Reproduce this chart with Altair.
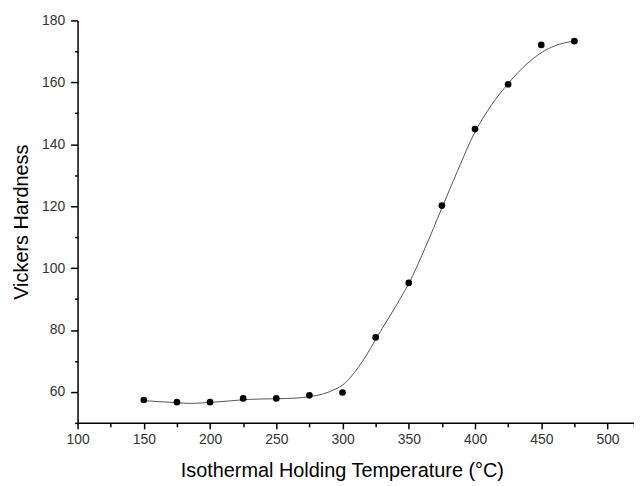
import altair as alt
import pandas as pd

# Measured points
temp = [150, 175, 200, 225, 250, 275, 300, 325, 350, 375, 400, 425, 450, 475]
hardness = [57.4, 56.7, 56.7, 57.9, 57.9, 58.9, 59.8, 77.6, 95.2, 120.2, 144.9, 159.4, 172.1, 173.3]

# Fitted curve
curve_t = [150, 160, 175, 185, 200, 215, 230, 250, 265, 275, 285, 295, 300, 306, 312,
           318, 325, 335, 345, 350, 362, 375, 387, 400, 412, 425, 440, 455, 467, 475]
curve_hv = [57.2, 56.9, 56.5, 56.3, 56.6, 57.1, 57.6, 57.8, 58.0, 58.5, 59.3, 61.0, 62.2, 64.7, 68.0,
            71.8, 77.0, 84.0, 91.2, 95.0, 106.2, 119.4, 131.6, 144.0, 152.4, 159.6, 166.3, 170.8, 172.7, 173.3]

x_major = [100, 150, 200, 250, 300, 350, 400, 450, 500]
x_minor = [125, 175, 225, 275, 325, 375, 425, 475, 520]
y_major = [60, 80, 100, 120, 140, 160, 180]
y_minor = [50, 70, 90, 110, 130, 150, 170]

pts = pd.DataFrame({"T": temp, "HV": hardness})
crv = pd.DataFrame({"T": curve_t, "HV": curve_hv})

FONT = "Liberation Sans"
xs = alt.Scale(domain=[100, 520], nice=False, zero=False)
ys = alt.Scale(domain=[50, 180], nice=False, zero=False)

ax_x = alt.Axis(values=x_major, orient="bottom", title="Isothermal Holding Temperature (°C)",
                grid=False, domainColor="black", domainWidth=1.5, tickColor="black", tickWidth=1.5,
                tickSize=6, labelFont=FONT, labelFontSize=14, labelColor="#333333", labelPadding=4,
                labelFlush=False, labelOverlap=False,
                titleFont=FONT, titleFontSize=20, titleFontWeight="normal", titleColor="black",
                titlePadding=14, titleX=266)
ax_y = alt.Axis(values=y_major, orient="left", title="Vickers Hardness",
                grid=False, domainColor="black", domainWidth=1.5, tickColor="black", tickWidth=1.5,
                tickSize=7, labelFont=FONT, labelFontSize=14, labelColor="#333333", labelPadding=6,
                labelFlush=False, labelOverlap=False,
                titleFont=FONT, titleFontSize=20, titleFontWeight="normal", titleColor="black",
                titlePadding=10)
ax_x_minor = alt.Axis(values=x_minor, orient="bottom", title=None, labels=False, grid=False,
                      domain=False, tickColor="black", tickWidth=1.5, tickSize=4)
ax_y_minor = alt.Axis(values=y_minor, orient="left", title=None, labels=False, grid=False,
                      domain=False, tickColor="black", tickWidth=1.5, tickSize=3)

line = alt.Chart(crv).mark_line(color="#555555", strokeWidth=1, interpolate="monotone").encode(
    x=alt.X("T:Q", scale=xs, axis=ax_x),
    y=alt.Y("HV:Q", scale=ys, axis=ax_y),
)
minor = alt.Chart(pts).mark_point(opacity=0).encode(
    x=alt.X("T:Q", scale=xs, axis=ax_x_minor),
    y=alt.Y("HV:Q", scale=ys, axis=ax_y_minor),
)
dots = alt.Chart(pts).mark_circle(size=45, color="black", opacity=1).encode(
    x=alt.X("T:Q", scale=xs, axis=None),
    y=alt.Y("HV:Q", scale=ys, axis=None),
)

chart = alt.layer(line, minor, dots).resolve_axis(x="independent", y="independent").properties(
    width=560, height=405,
    autosize=alt.AutoSizeParams(type="none"),
    padding={"left": 70, "top": 11, "right": 0, "bottom": 60},
).configure_view(stroke=None)

chart.save("out.html", embed_options={"renderer": "svg", "actions": False})
